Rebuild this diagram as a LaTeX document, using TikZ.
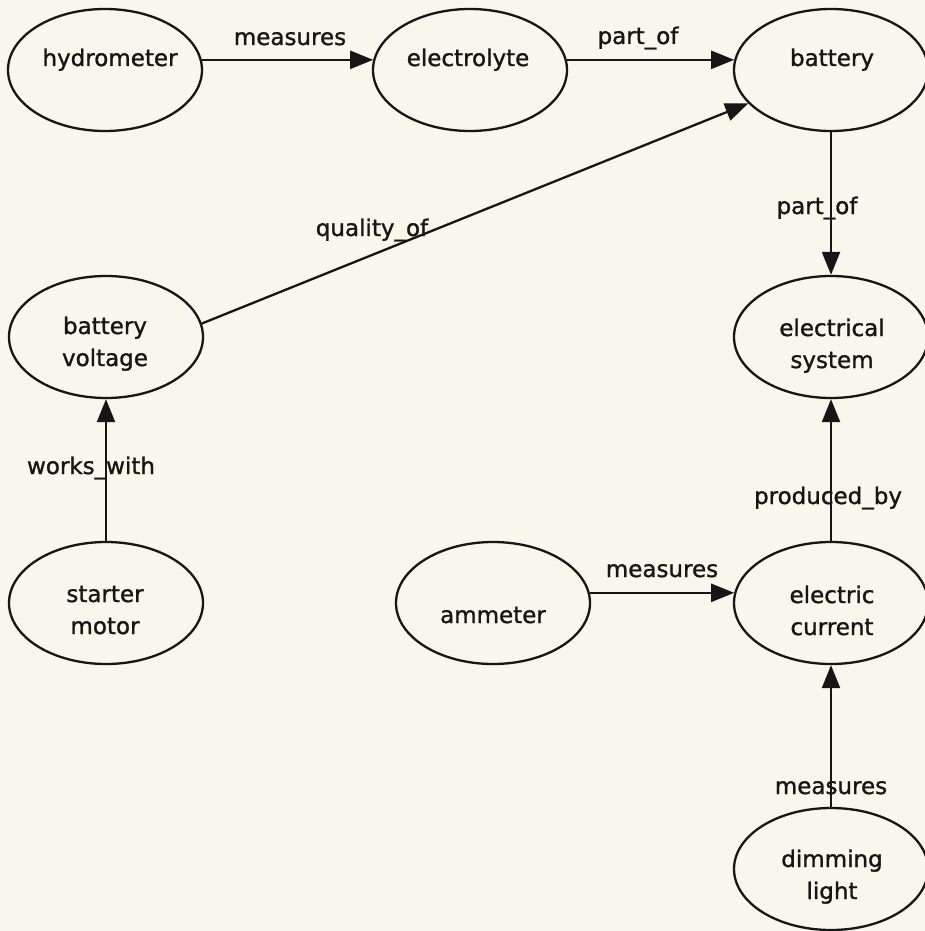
\documentclass[tikz,border=0pt]{standalone}
\usepackage{fontspec}
\setmainfont[FakeBold=1.2]{DejaVu Sans}
\usetikzlibrary{shapes.geometric,arrows.meta}
\definecolor{paper}{RGB}{247,247,236}
\definecolor{ink}{RGB}{22,22,22}
% two centred lines, baseline on the first one
\newcommand{\twolines}[2]{\begin{tabular}[t]{@{}c@{}}#1\\#2\end{tabular}}
\begin{document}
\begin{tikzpicture}[x=1pt,y=-1pt,
  concept/.style={draw=ink, ellipse, line width=2.3pt, minimum width=194pt,
    minimum height=122pt, inner sep=0pt},
  word/.style={anchor=base, text=ink, inner sep=0pt,
    font=\fontsize{23}{32}\selectfont},
  link/.style={draw=ink, line width=2.3pt,
    -{Triangle[length=23pt,width=18pt]}}]
\fill[paper] (0,0) rectangle (925,931);
\useasboundingbox (0,0) rectangle (925,931);

% concepts
\node[concept] (hyd)   at (105,70)  {};
\node[concept] (elyte) at (470,70)  {};
\node[concept] (batt)  at (831,70)  {};
\node[concept] (bv)    at (106,337) {};
\node[concept] (es)    at (831,337) {};
\node[concept] (sm)    at (106,603) {};
\node[concept] (am)    at (493,603) {};
\node[concept] (ec)    at (831,603) {};
\node[concept] (dl)    at (831,869) {};

% concept names
\node[word] (hydT)   at (110,66)  {hydrometer};
\node[word] (elyteT) at (468,66)  {electrolyte};
\node[word] (battT)  at (832,66)  {battery};
\node[word] (bvT)    at (105,334) {\twolines{battery}{voltage}};
\node[word] (esT)    at (832,336) {\twolines{electrical}{system}};
\node[word] (smT)    at (105,602) {\twolines{starter}{motor}};
\node[word] (amT)    at (493,623) {ammeter};
\node[word] (ecT)    at (832,603) {\twolines{electric}{current}};
\node[word] (dlT)    at (832,867) {\twolines{dimming}{light}};

% relations
\draw[link] (hyd.6)   -- (elyte.174);
\draw[link] (elyte.6) -- (batt.174);
\draw[link] (bv.8)    -- (batt.202);
\draw[link] (batt)    -- (es);
\draw[link] (sm)      -- (bv);
\draw[link] (am.6)    -- (ec.174);
\draw[link] (ec)      -- (es);
\draw[link] (dl)      -- (ec);

% relation names
\node[word] (r1) at (290,45)  {measures};
\node[word] (r2) at (638,44)  {part\_of};
\node[word] (r3) at (372,236) {quality\_of};
\node[word] (r4) at (817,214) {part\_of};
\node[word] (r5) at (91,474)  {works\_with};
\node[word] (r6) at (662,577) {measures};
\node[word] (r7) at (828,504) {produced\_by};
\node[word] (r8) at (831,794) {measures};
\end{tikzpicture}
\end{document}
